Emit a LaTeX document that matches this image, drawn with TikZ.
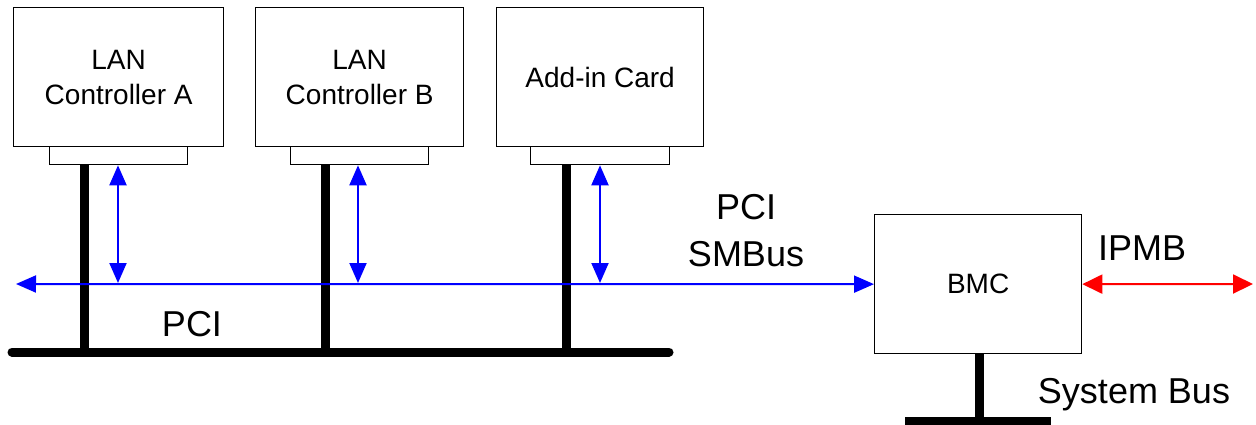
\documentclass[tikz,border=0pt]{standalone}
\usepackage{fontspec}
\setmainfont{Liberation Sans}
\usetikzlibrary{arrows.meta}
\begin{document}
\begin{tikzpicture}[x=1pt,y=-1pt,
  box/.style={draw, line width=1.3pt, inner sep=0pt, fill=white, anchor=north west,
    font=\fontsize{28}{35}\selectfont, align=center},
  tab/.style={draw, line width=1.3pt, inner sep=0pt, anchor=north west, minimum height=18pt},
  lbl/.style={font=\fontsize{36}{47}\selectfont, align=center},
  bus/.style={line width=9pt},
  tip/.style={Triangle[length=20pt,width=17pt]},
  sm/.style={draw=blue, line width=2pt, {Triangle[length=20pt,width=17pt]}-{Triangle[length=20pt,width=17pt]}},
  ipmb/.style={draw=red, line width=2pt, {Triangle[length=20pt,width=19pt]}-{Triangle[length=20pt,width=19pt]}},
]
\useasboundingbox (0,0) rectangle (1256,425);
% cards
\node[box, minimum width=210pt, minimum height=139pt] (A) at (13,7) {LAN\\Controller A};
\node[box, minimum width=208pt, minimum height=139pt] (B) at (255,7) {LAN\\Controller B};
\node[box, minimum width=207pt, minimum height=139pt] (C) at (496,7) {Add-in Card};
\node[tab, minimum width=138pt] (tA) at (49,146) {};
\node[tab, minimum width=138pt] (tB) at (290,146) {};
\node[tab, minimum width=139pt] (tC) at (530,146) {};
% BMC
\node[box, minimum width=207pt, minimum height=139pt] (BMC) at (874,214) {BMC};
% bus coordinates
\coordinate (pciL) at (12,352);
\coordinate (pciR) at (669,352);
\coordinate (smL) at (16,284);
\coordinate (ipR) at (1253,284);
\coordinate (sysL) at (905,421);
\coordinate (sysR) at (1051,421);
% PCI bus
\draw[bus, line cap=round] (pciL) -- (pciR);
\draw[bus] (tA.south -| 84,0) -- (84,352);
\draw[bus] (tB.south -| 325,0) -- (325,352);
\draw[bus] (tC.south -| 566,0) -- (566,352);
% SMBus
\draw[sm] (smL) -- (BMC.west);
\draw[sm] (tA.south -| 118,0) -- (118,283);
\draw[sm] (tB.south -| 358,0) -- (358,283);
\draw[sm] (tC.south -| 600,0) -- (600,283);
% IPMB
\draw[ipmb] (BMC.east) -- (ipR);
% System bus
\draw[bus] (BMC.south -| 979,0) -- (979,421);
\draw[bus] (sysL) -- (sysR);
% labels
\node[lbl] (lpci) at (192,324) {PCI};
\node[lbl] (lsm) at (746,231) {PCI\\SMBus};
\node[lbl] (lipmb) at (1142,248) {IPMB};
\node[lbl] (lsys) at (1134,395) {System Bus};
\end{tikzpicture}
\end{document}
